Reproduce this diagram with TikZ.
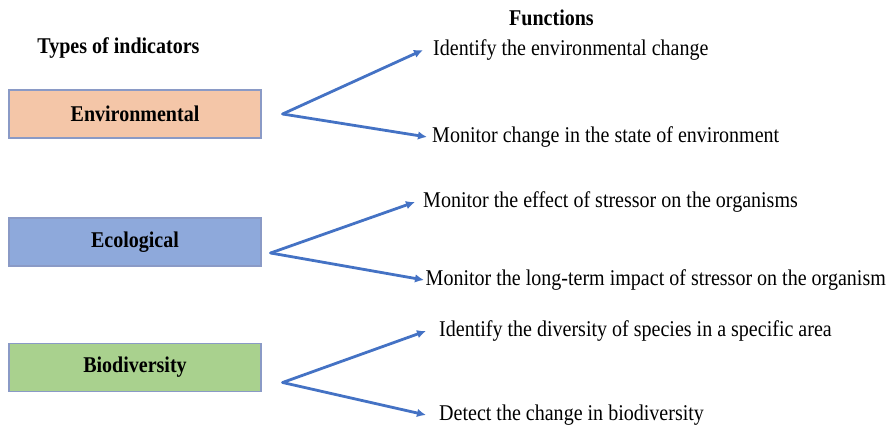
\documentclass[tikz,border=0pt]{standalone}
\usepackage{fontspec}
\setmainfont{Liberation Serif}[FakeStretch=0.89]
\usepackage{xcolor}
\usetikzlibrary{arrows,arrows.meta,positioning}
\definecolor{envfill}{HTML}{F4C6A8}
\definecolor{ecofill}{HTML}{8EA9DB}
\definecolor{biofill}{HTML}{A9D18E}
\definecolor{boxline}{HTML}{8A9AC6}
\definecolor{arrowblue}{HTML}{4472C4}
\tikzset{
 indicator/.style={draw=boxline, line width=1.2pt, minimum width=252pt, minimum height=48pt, font=\fontsize{22.5}{26}\selectfont\bfseries},
 func/.style={anchor=west, inner ysep=0pt, text height=15pt, text depth=4.5pt, font=\fontsize{22.5}{26}\selectfont},
 heading/.style={font=\fontsize{22.5}{26}\selectfont\bfseries},
 link/.style={draw=arrowblue, line width=2.8pt, line cap=round, -{Latex[length=9pt,width=8.5pt]}},
}

\begin{document}
\begin{tikzpicture}[x=1pt,y=-1pt]
\useasboundingbox (0,0) rectangle (891,427);
% headings
 \node[heading] (types) at (118.5,48) {Types of indicators};
 \node[heading] (functions) at (551.5,18) {Functions};
% indicator boxes
 \node[indicator, fill=envfill] (env) at (135,114) {Environmental};
 \node[indicator, fill=ecofill] (eco) at (135,242) {Ecological};
 \node[indicator, fill=biofill] (bio) at (135,367.5) {Biodiversity};
% fork points
 \coordinate[right=21pt of env.east] (envfork);
 \coordinate[right=9pt of eco.east, yshift=-11pt] (ecofork);
 \coordinate[right=21pt of bio.east, yshift=-15pt] (biofork);
% functions
 \node[func, inner xsep=10pt] (envtop) at (423,50) {Identify the environmental change};
 \node[func, inner xsep=5pt] (envbot) at (427,137) {Monitor change in the state of environment};
 \node[func, inner xsep=8pt] (ecotop) at (415,202) {Monitor the effect of stressor on the organisms};
 \node[func, inner xsep=1.5pt] (ecobot) at (424,280) {Monitor the long-term impact of stressor on the organism};
 \node[func, inner xsep=13pt] (biotop) at (426,331) {Identify the diversity of species in a specific area};
 \node[func, inner xsep=13pt] (biobot) at (426,415) {Detect the change in biodiversity};
% edges
 \draw[link] (envfork) -- (envtop.west);
 \draw[link] (envfork) -- (envbot.west);
 \draw[link] (ecofork) -- (ecotop.west);
 \draw[link] (ecofork) -- (ecobot.west);
 \draw[link] (biofork) -- (biotop.west);
 \draw[link] (biofork) -- (biobot.west);
\end{tikzpicture}
\end{document}
